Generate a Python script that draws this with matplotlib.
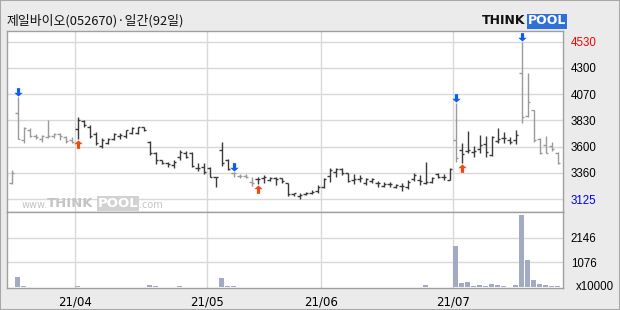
import matplotlib
matplotlib.use("Agg")
import matplotlib.pyplot as plt
from matplotlib.path import Path
from matplotlib.patches import Rectangle
import numpy as np

W, H = 620, 310

title = "제일바이오(052670)·일간(92일)"

opens = [3265, 3893, 3650, 3740, 3690, 3660, 3680, 3690, 3710, 3680,
         3650, 3750, 3821, 3768, 3706, 3598, 3625, 3661, 3688, 3688,
         3714, 3714, 3768, 3634, 3540, 3473, 3451, 3429, 3503, 3533,
         3538, 3402, 3413, 3399, 3324, 3563, 3473, 3355, 3330, 3330,
         3280, 3300, 3310, 3295, 3310, 3310, 3271, 3170, 3152, 3170,
         3175, 3195, 3230, 3330, 3369, 3390, 3354, 3295, 3301, 3265,
         3288, 3271, 3241, 3256, 3235, 3241, 3235, 3301, 3295, 3271,
         3279, 3348, 3324, 3295, 3652, 3563, 3556, 3547, 3569, 3616,
         3518, 3643, 3670, 3652, 3652, 4253, 3866, 3920, 3658, 3607,
         3598, 3538]
highs = [3384, 4036, 3770, 3755, 3705, 3697, 3830, 3717, 3717, 3688,
         3676, 3857, 3830, 3786, 3726, 3670, 3670, 3714, 3714, 3741,
         3768, 3772, 3772, 3646, 3547, 3473, 3458, 3473, 3563, 3556,
         3547, 3444, 3449, 3408, 3324, 3637, 3480, 3369, 3345, 3345,
         3319, 3319, 3340, 3319, 3319, 3315, 3271, 3181, 3176, 3190,
         3205, 3250, 3310, 3399, 3399, 3399, 3360, 3346, 3339, 3310,
         3310, 3288, 3274, 3274, 3256, 3265, 3295, 3354, 3339, 3458,
         3324, 3354, 3346, 3399, 3980, 3622, 3732, 3598, 3697, 3688,
         3688, 3756, 3721, 3681, 3741, 4530, 4253, 3920, 3667, 3688,
         3631, 3547]
lows = [3259, 3661, 3628, 3680, 3658, 3637, 3667, 3667, 3650, 3628,
        3622, 3661, 3771, 3667, 3607, 3581, 3616, 3652, 3661, 3670,
        3705, 3705, 3732, 3518, 3438, 3435, 3408, 3399, 3473, 3488,
        3413, 3378, 3348, 3324, 3229, 3420, 3384, 3324, 3310, 3310,
        3241, 3256, 3265, 3290, 3250, 3265, 3152, 3152, 3125, 3161,
        3170, 3181, 3221, 3280, 3319, 3339, 3279, 3259, 3279, 3250,
        3271, 3229, 3229, 3235, 3226, 3199, 3212, 3288, 3250, 3259,
        3271, 3310, 3295, 3295, 3458, 3444, 3538, 3503, 3538, 3503,
        3512, 3622, 3628, 3616, 3616, 3801, 3860, 3637, 3527, 3533,
        3556, 3438]
closes = [3360, 3661, 3760, 3690, 3680, 3690, 3690, 3705, 3690, 3640,
          3630, 3830, 3786, 3688, 3625, 3652, 3661, 3705, 3701, 3737,
          3763, 3768, 3741, 3540, 3473, 3449, 3438, 3458, 3547, 3503,
          3420, 3402, 3369, 3324, 3319, 3444, 3390, 3355, 3330, 3325,
          3270, 3300, 3320, 3310, 3300, 3290, 3170, 3175, 3161, 3180,
          3190, 3235, 3300, 3380, 3390, 3360, 3288, 3301, 3315, 3301,
          3304, 3265, 3256, 3259, 3250, 3241, 3279, 3339, 3288, 3279,
          3310, 3324, 3324, 3390, 3488, 3527, 3563, 3556, 3607, 3547,
          3682, 3661, 3667, 3634, 3697, 3860, 3994, 3652, 3538, 3536,
          3569, 3444]
volumes = [30, 460, 70, 30, 30, 30, 30, 30, 30, 30,
           30, 70, 30, 30, 30, 30, 30, 30, 30, 30,
           30, 30, 30, 110, 70, 30, 30, 30, 70, 30,
           30, 30, 30, 30, 30, 420, 70, 70, 30, 30,
           30, 30, 30, 30, 30, 30, 30, 30, 30, 30,
           30, 30, 30, 30, 30, 30, 30, 30, 30, 30,
           30, 30, 30, 30, 30, 30, 30, 30, 30, 110,
           30, 30, 30, 30, 1770, 200, 250, 70, 115, 70,
           160, 115, 70, 30, 115, 3120, 1160, 330, 160, 115,
           70, 70]

gray_bars = list(range(0, 11)) + [37, 38, 39, 40, 74] + list(range(85, 92))
sell_signals = [1, 37, 74, 85]
buy_signals = [11, 41, 75]
month_starts = [11, 33, 52, 74]
month_labels = ["21/04", "21/05", "21/06", "21/07"]
price_tick_labels = ["3125", "3360", "3600", "3830", "4070", "4300", "4530"]
vol_ticks = [1076, 2146]
vol_tick_labels = ["1076", "2146"]
vol_unit = "x10000"

n = len(opens)
x = np.arange(n)
LAB_FONT = ["Liberation Sans", "DejaVu Sans"]

fig = plt.figure(figsize=(W / 100, H / 100), dpi=100)
fig.patch.set_facecolor("#ebebeb")
fig.patches.append(Rectangle((0, 0), 1, 1, transform=fig.transFigure,
                             fill=False, edgecolor="#a8a8a8", lw=1.5))


def fx(px):
    return px / W


def fy(py):
    return 1 - py / H


L, R = 7.3, 562.7
axp = fig.add_axes([fx(L), fy(212), (R - L) / W, (212 - 31.3) / H])
axv = fig.add_axes([fx(L), fy(288.3), (R - L) / W, (288.3 - 212.3) / H])

xlim = (-0.73, 91.83)
pmin, pmax = min(lows), max(highs)
ppx = (pmax - pmin) / 157.33
for ax in (axp, axv):
    ax.set_xlim(*xlim)
    ax.set_facecolor("white")
    for s in ax.spines.values():
        s.set_color("#a0a0a0")
        s.set_linewidth(1.0)
    for m in month_starts:
        ax.axvline(m - 0.5, color="#d9d9d9", lw=1.0, zorder=0)

axp.set_ylim(pmin - 13 * ppx, pmax + 10.4 * ppx)
pticks = np.linspace(pmin, pmax, len(price_tick_labels))
for t in pticks:
    axp.axhline(t, color="#d9d9d9", lw=1.0, zorder=0)
axp.yaxis.tick_right()
axp.set_yticks(pticks)
axp.set_yticklabels(price_tick_labels)
axp.tick_params(axis="y", length=0, pad=5.8, labelsize=8.3)
for lab in axp.get_yticklabels():
    lab.set_family(LAB_FONT)
axp.get_yticklabels()[0].set_color("#0000ff")
axp.get_yticklabels()[-1].set_color("#ff0000")
axp.set_xticks([])

colors = ["#9a9a9a" if i in gray_bars else "#3a3a3a" for i in range(n)]
axp.vlines(x, lows, highs, colors=colors, lw=1.0, zorder=3)
axp.hlines(opens, x - 0.42, x, colors=colors, lw=1.0, zorder=3)
axp.hlines(closes, x, x + 0.42, colors=colors, lw=1.0, zorder=3)

# arrow markers: tip at the origin
down_marker = Path(np.array([[0, 0.1], [-0.45, 0.5], [-0.17, 0.5], [-0.17, 1.0],
                             [0.17, 1.0], [0.17, 0.5], [0.45, 0.5], [0, 0.1]]),
                   [Path.MOVETO] + [Path.LINETO] * 6 + [Path.CLOSEPOLY])
up_marker = Path(down_marker.vertices * np.array([1, -1]), down_marker.codes)

axp.scatter([x[i] for i in sell_signals], [highs[i] for i in sell_signals],
            marker=down_marker, s=13.5 ** 2, color="#0a5ff0", lw=0, zorder=4,
            clip_on=False)
axp.scatter([x[i] for i in buy_signals], [lows[i] for i in buy_signals],
            marker=up_marker, s=13.5 ** 2, color="#f04a10", lw=0, zorder=4,
            clip_on=False)

axv.bar(x, volumes, width=0.8, color="#a3abc4", zorder=3)
axv.set_ylim(-43, 3240)
for t in vol_ticks:
    axv.axhline(t, color="#d9d9d9", lw=1.0, zorder=0)
axv.yaxis.tick_right()
axv.set_yticks(vol_ticks)
axv.set_yticklabels(vol_tick_labels)
axv.tick_params(axis="y", length=0, pad=5.8, labelsize=8.3)
for lab in axv.get_yticklabels():
    lab.set_family(LAB_FONT)
axv.set_xticks([m - 0.5 for m in month_starts])
axv.set_xticklabels(month_labels)
axv.tick_params(axis="x", length=0, pad=5, labelsize=8.5)

fig.text(fx(575.5), fy(287), vol_unit, fontsize=8.3, va="center", ha="left",
         family=LAB_FONT)

fig.text(fx(6.5), fy(21), title, fontsize=9.3, va="center", ha="left",
         family=["Noto Sans CJK KR", "DejaVu Sans"], color="#111111")

# THINKPOOL logo
fig.text(fx(482), fy(21), "THINK", fontsize=9, fontweight="heavy",
         va="center", ha="left", color="#111111", family="DejaVu Sans")
fig.text(fx(527.5), fy(21), "POOL", fontsize=9, fontweight="heavy",
         va="center", ha="left", color="white", family="DejaVu Sans",
         bbox=dict(boxstyle="square,pad=0.08", fc="#2f6fd8", ec="none"))

# watermark
wm = "#c4c4c4"
fig.text(fx(22), fy(205), "www.", fontsize=7, color=wm, va="center", ha="left")
fig.text(fx(46.5), fy(203.5), "THINK", fontsize=9.5, fontweight="heavy", color=wm,
         va="center", ha="left")
fig.text(fx(97.5), fy(203.5), "POOL", fontsize=9.5, fontweight="heavy",
         color="white", va="center", ha="left",
         bbox=dict(boxstyle="square,pad=0.05", fc="#d2d2d2", ec="none"))
fig.text(fx(139.5), fy(205), ".com", fontsize=7, color=wm, va="center", ha="left")

fig.savefig("out.png", dpi=100, facecolor=fig.get_facecolor())
